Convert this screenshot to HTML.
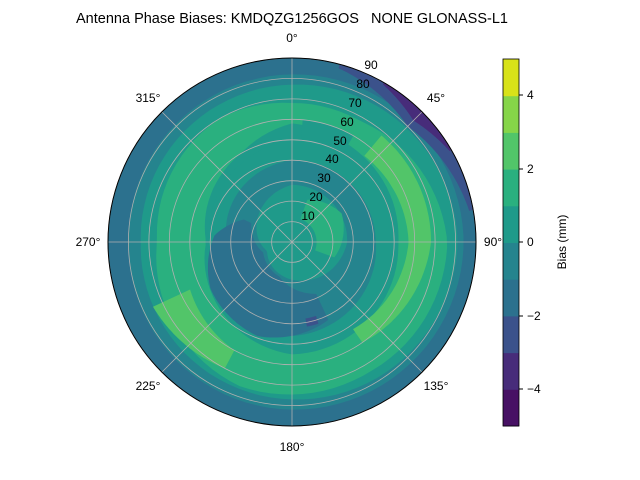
<!DOCTYPE html>
<html><head><meta charset="utf-8"><style>
body{margin:0;background:#fff;}
svg{display:block;font-family:"Liberation Sans","DejaVu Sans",sans-serif;}
</style></head><body>
<svg id="s" width="640" height="480" viewBox="0 0 640 480" xmlns="http://www.w3.org/2000/svg">
<defs><clipPath id="c"><circle cx="292" cy="242" r="184"/></clipPath></defs>
<g id="fills" clip-path="url(#c)"></g>
<g id="grid" fill="none" stroke="#b0b0b0" stroke-width="0.8"></g>
<circle cx="292" cy="242" r="184" fill="none" stroke="#000" stroke-width="1"/>
<text x="292" y="23" font-size="14.5" text-anchor="middle" xml:space="preserve">Antenna Phase Biases: KMDQZG1256GOS   NONE GLONASS-L1</text>
<g font-size="12" text-anchor="middle">
<text x="292" y="42">0°</text>
<text x="436" y="102">45°</text>
<text x="493" y="246">90°</text>
<text x="436" y="390">135°</text>
<text x="292" y="451">180°</text>
<text x="148" y="390">225°</text>
<text x="88" y="246">270°</text>
<text x="148" y="102">315°</text>
</g>
<g id="cb"></g>
<rect x="503" y="59" width="16" height="367" fill="none" stroke="#000" stroke-width="0.8"/>
<g font-size="12">
<line x1="519" y1="389" x2="523" y2="389" stroke="#000"/><text x="527" y="393">−4</text>
<line x1="519" y1="316" x2="523" y2="316" stroke="#000"/><text x="527" y="320">−2</text>
<line x1="519" y1="242" x2="523" y2="242" stroke="#000"/><text x="527" y="246">0</text>
<line x1="519" y1="169" x2="523" y2="169" stroke="#000"/><text x="527" y="173">2</text>
<line x1="519" y1="95" x2="523" y2="95" stroke="#000"/><text x="527" y="99">4</text>
<text x="566" y="242" text-anchor="middle" transform="rotate(-90 566 242)">Bias (mm)</text>
</g>
<g font-size="12" text-anchor="middle">
<text x="308" y="220">10</text><text x="316" y="201">20</text><text x="324" y="182">30</text>
<text x="332" y="163">40</text><text x="340" y="145">50</text><text x="347" y="126">60</text>
<text x="355" y="107">70</text><text x="363" y="88">80</text><text x="371" y="69">90</text>
</g>
</svg>
<script>
var NS="http://www.w3.org/2000/svg",cx=292,cy=242,K=184/90;
function P(t,r){t=t*Math.PI/180;return [cx+r*K*Math.sin(t),cy-r*K*Math.cos(t)];}
function el(n,a,p){var e=document.createElementNS(NS,n);for(var k in a)e.setAttribute(k,a[k]);p.appendChild(e);return e;}
var F=document.getElementById("fills");
function interp(f,t){if(typeof f=="number")return f;t=((t%360)+360)%360;
 for(var i=0;i<f.length-1;i++){if(t>=f[i][0]&&t<=f[i+1][0]){var u=(t-f[i][0])/(f[i+1][0]-f[i][0]);return f[i][1]+(f[i+1][1]-f[i][1])*u;}}return f[0][1];}
function sec(t1,t2,r1,r2,c){var d="",i,n=90,p,t;for(i=0;i<=n;i++){t=t1+(t2-t1)*i/n;p=P(t,interp(r2,t));d+=(i?"L":"M")+p[0].toFixed(1)+" "+p[1].toFixed(1);}
for(i=n;i>=0;i--){t=t1+(t2-t1)*i/n;p=P(t,interp(r1,t));d+="L"+p[0].toFixed(1)+" "+p[1].toFixed(1);}el("path",{d:d+"Z",fill:c},F);}
var C=["#471164","#472c7a","#3b528b","#2c718e","#25848e","#1f9a8a","#2ab07f","#52c569","#86d549","#d8e219"];
el("circle",{cx:cx,cy:cy,r:184,fill:C[3]},F);
sec(0,360,0,[[0,82],[90,84],[180,82],[270,80],[360,82]],C[4]);
sec(0,360,0,[[0,77],[90,81],[180,77],[270,74],[360,77]],C[5]);
// green ring
sec(0,360,[[0,58],[30,55],[90,52],[180,55],[270,42],[330,50],[360,58]],[[0,68],[30,68],[90,76],[150,74],[200,75],[270,66],[330,70],[360,68]],C[6]);
sec(5,30,50,60,C[5]);
// light green
sec(40,145,[[40,55],[90,57],[145,52]],[[40,68],[90,68],[145,60]],C[7]);
sec(208,245,[[208,60],[245,55]],[[208,70],[245,75]],C[7]);
// inner rings
sec(0,360,0,[[0,50],[90,50],[180,52],[270,40],[330,46],[360,50]],C[5]);
sec(0,360,0,[[0,40],[90,41],[180,46],[270,32],[360,40]],C[4]);
sec(155,295,[[155,28],[200,18],[250,15],[295,22]],[[155,42],[200,49],[240,46],[275,38],[295,26]],C[3]);
sec(0,360,0,[[0,28],[90,27],[160,20],[250,13],[330,24],[360,28]],C[5]);
sec(20,110,[[20,12],[110,12]],[[20,22],[60,28],[110,22]],C[6]);
sec(162,170,38,42,C[2]);
// outer dark top-right
sec(15,80,[[15,88],[45,80],[80,88]],90,C[2]);
sec(30,60,[[30,89],[45,84],[60,89]],90,C[1]);
var G=document.getElementById("grid");
for(var k=1;k<=9;k++)el("circle",{cx:cx,cy:cy,r:(k*184/9).toFixed(1)},G);
for(var a=0;a<360;a+=45){var p=P(a,90);el("line",{x1:cx,y1:cy,x2:p[0],y2:p[1]},G);}
var B=document.getElementById("cb");
for(var i=0;i<10;i++)el("rect",{x:503,y:(426-(i+1)*36.7).toFixed(1),width:16,height:37.2,fill:C[i]},B);
</script>
</body></html>
